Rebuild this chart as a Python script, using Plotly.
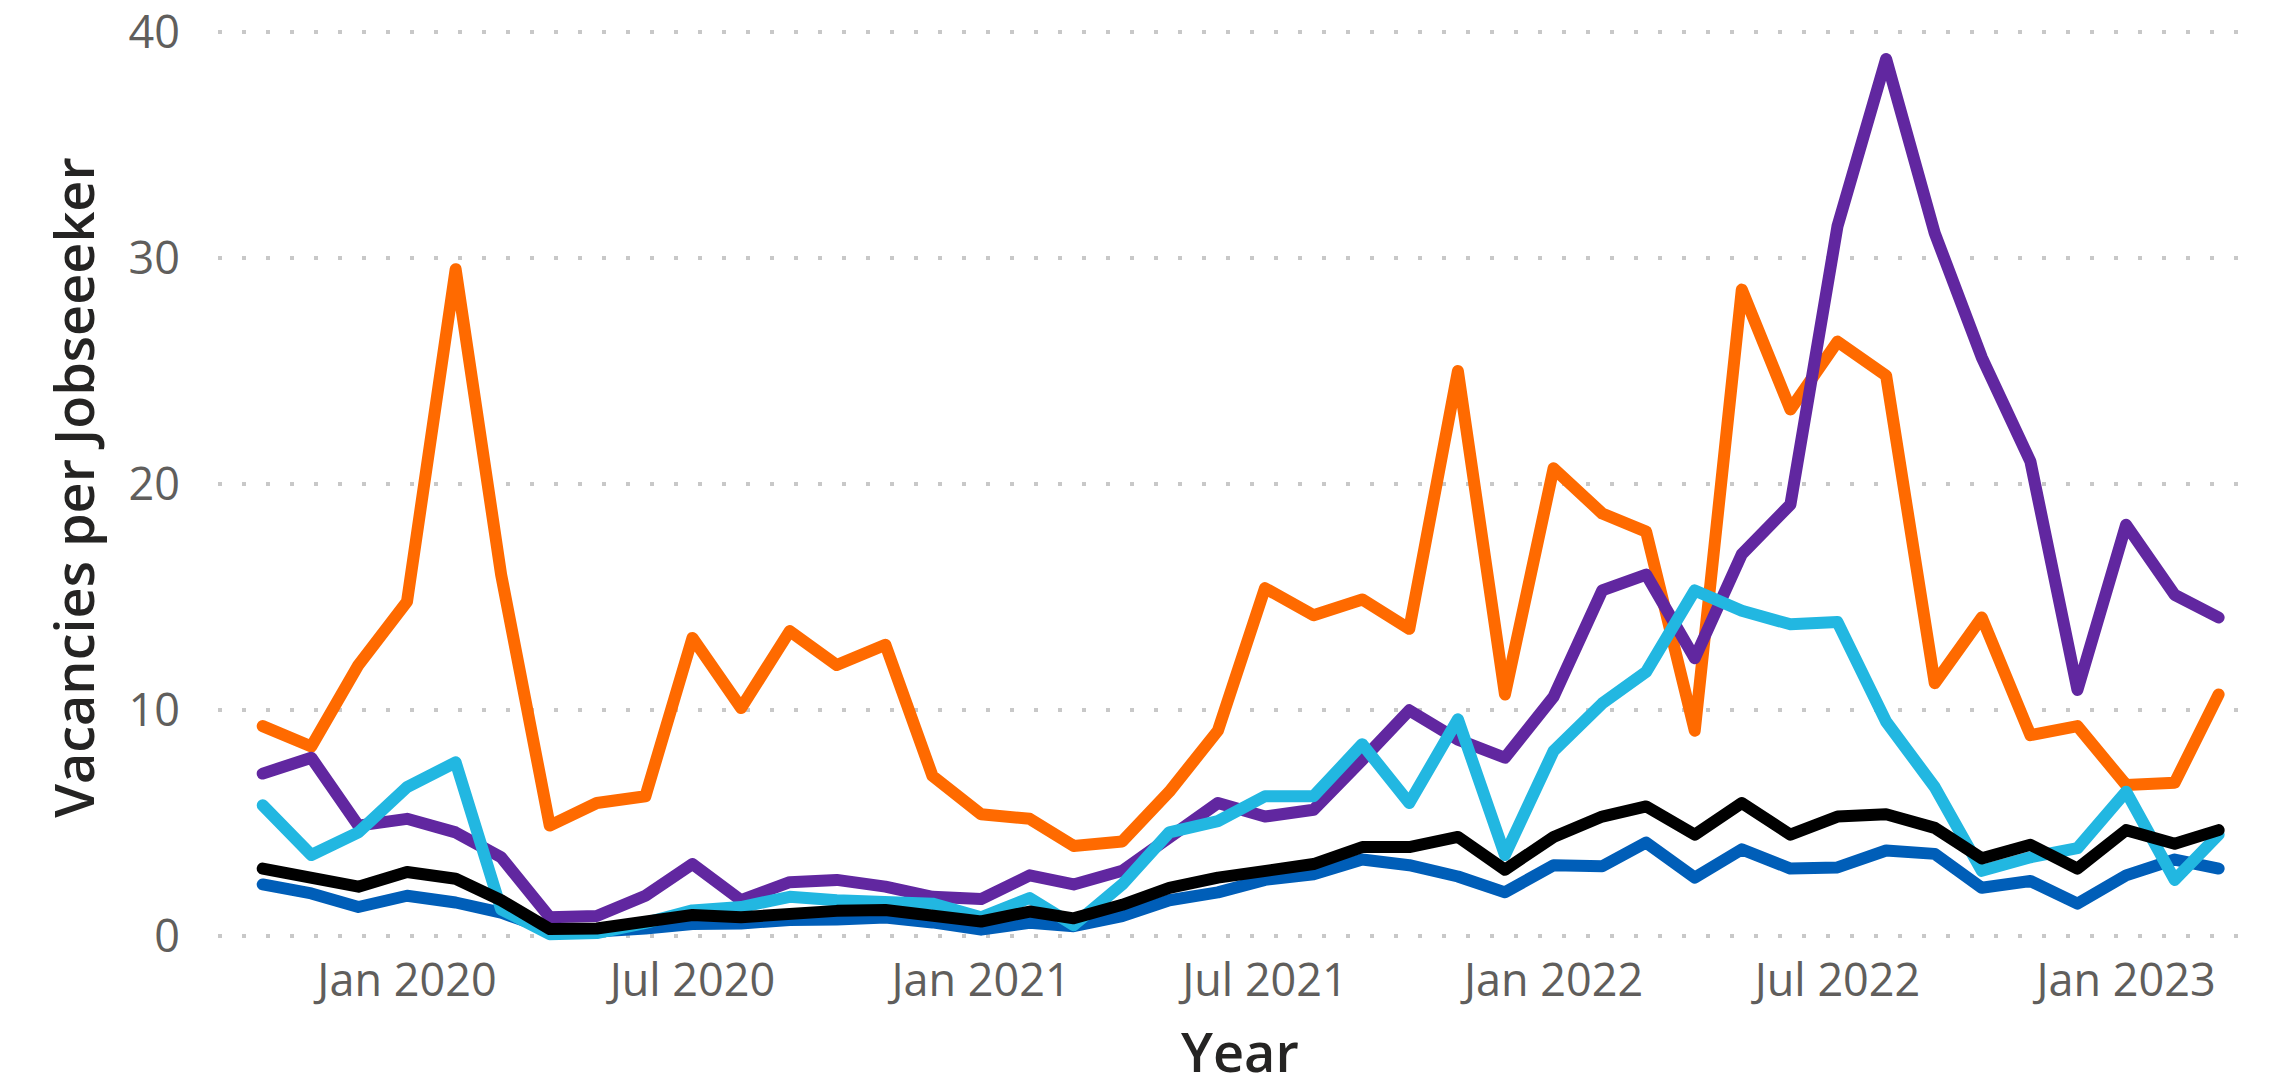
import plotly.graph_objects as go

months = [
    "2019-10-01", "2019-11-01", "2019-12-01",
    "2020-01-01", "2020-02-01", "2020-03-01", "2020-04-01", "2020-05-01", "2020-06-01",
    "2020-07-01", "2020-08-01", "2020-09-01", "2020-10-01", "2020-11-01", "2020-12-01",
    "2021-01-01", "2021-02-01", "2021-03-01", "2021-04-01", "2021-05-01", "2021-06-01",
    "2021-07-01", "2021-08-01", "2021-09-01", "2021-10-01", "2021-11-01", "2021-12-01",
    "2022-01-01", "2022-02-01", "2022-03-01", "2022-04-01", "2022-05-01", "2022-06-01",
    "2022-07-01", "2022-08-01", "2022-09-01", "2022-10-01", "2022-11-01", "2022-12-01",
    "2023-01-01", "2023-02-01", "2023-03-01",
]

orange_vals = [
    9.3, 8.4, 12.0,
    14.8, 29.5, 16.0, 4.9, 5.9, 6.2,
    13.2, 10.1, 13.5, 12.0, 12.9, 7.1,
    5.4, 5.2, 4.0, 4.2, 6.4, 9.1,
    15.4, 14.2, 14.9, 13.6, 25.0, 10.7,
    20.7, 18.7, 17.9, 9.1, 28.6, 23.3,
    26.3, 24.8, 11.2, 14.1, 8.9, 9.3,
    6.7, 6.8, 10.7,
]

purple_vals = [
    7.2, 7.9, 4.9,
    5.2, 4.6, 3.5, 0.85, 0.9, 1.8,
    3.2, 1.6, 2.4, 2.5, 2.2, 1.75,
    1.65, 2.7, 2.3, 2.9, 4.4, 5.9,
    5.3, 5.6, 7.8, 10.0, 8.7, 7.9,
    10.6, 15.3, 16.0, 12.3, 16.9, 19.1,
    31.4, 38.8, 31.1, 25.6, 21.0, 10.9,
    18.2, 15.1, 14.1,
]

cyan_vals = [
    5.8, 3.6, 4.6,
    6.6, 7.7, 1.2, 0.1, 0.15, 0.6,
    1.15, 1.3, 1.75, 1.6, 1.5, 1.45,
    0.85, 1.7, 0.5, 2.3, 4.6, 5.1,
    6.2, 6.2, 8.5, 5.9, 9.6, 3.6,
    8.2, 10.3, 11.7, 15.3, 14.4, 13.8,
    13.9, 9.5, 6.6, 2.9, 3.5, 3.9,
    6.4, 2.5, 4.5,
]

blue_vals = [
    2.3, 1.9, 1.3,
    1.8, 1.5, 1.05, 0.3, 0.22, 0.35,
    0.55, 0.57, 0.73, 0.75, 0.84, 0.62,
    0.3, 0.6, 0.45, 0.9, 1.6, 1.95,
    2.5, 2.75, 3.4, 3.15, 2.65, 1.95,
    3.15, 3.1, 4.15, 2.6, 3.85, 3.0,
    3.05, 3.8, 3.65, 2.15, 2.45, 1.45,
    2.7, 3.4, 3.0,
]

black_vals = [
    3.0, 2.55, 2.2,
    2.85, 2.55, 1.6, 0.33, 0.35, 0.62,
    0.95, 0.85, 1.05, 1.13, 1.17, 0.95,
    0.66, 1.1, 0.8, 1.4, 2.15, 2.6,
    2.95, 3.2, 3.95, 3.95, 4.4, 2.95,
    4.4, 5.3, 5.75, 4.5, 5.9, 4.5,
    5.3, 5.4, 4.8, 3.45, 4.05, 3.0,
    4.7, 4.1, 4.7,
]

tick_vals = ["2020-01-01", "2020-07-01", "2021-01-01", "2021-07-01",
             "2022-01-01", "2022-07-01", "2023-01-01"]
tick_text = ["Jan 2020", "Jul 2020", "Jan 2021", "Jul 2021",
             "Jan 2022", "Jul 2022", "Jan 2023"]
y_ticks = [0, 10, 20, 30, 40]

x_title = "Year"
y_title = "Vacancies per Jobseeeker"

series = [
    ("orange", orange_vals, "#FF6A00"),
    ("purple", purple_vals, "#6127A0"),
    ("blue", blue_vals, "#005EB8"),
    ("cyan", cyan_vals, "#22B7E1"),
    ("black", black_vals, "#000000"),
]

fig = go.Figure()
for name, vals, color in series:
    fig.add_trace(go.Scatter(
        x=months, y=vals, mode="lines", name=name,
        line=dict(color=color, width=12),
        hoverinfo="skip",
    ))

FONT = "Open Sans"
TITLE_FONT = dict(size=54, color="#252423", family=FONT, weight=600)
fig.update_layout(
    width=2279, height=1084,
    paper_bgcolor="white", plot_bgcolor="white",
    showlegend=False,
    margin=dict(l=218, r=29, t=25, b=134),
    font=dict(family=FONT, color="#605E5C"),
    xaxis=dict(
        type="date", automargin=False,
        range=["2019-09-02 12:00", "2023-03-21"],
        tickvals=tick_vals, ticktext=tick_text,
        tickfont=dict(size=45, color="#605E5C", family=FONT),
        showgrid=False, zeroline=False, showline=False,
        ticks="", ticklabelstandoff=0, ticklabeloverflow="allow",
    ),
    yaxis=dict(
        automargin=False,
        range=[-0.6, 40.3],
        tickvals=y_ticks,
        tickfont=dict(size=45, color="#605E5C", family=FONT),
        showgrid=True, gridcolor="#C8C8C8", gridwidth=4, griddash="4px,20px",
        zeroline=False, showline=False,
        ticks="", ticklabelstandoff=37, ticklabeloverflow="allow",
        title=dict(text=y_title, font=TITLE_FONT, standoff=16),
    ),
    annotations=[dict(
        text=x_title, xref="paper", yref="paper", x=0.503, y=-0.109,
        xanchor="center", yanchor="middle", showarrow=False, font=TITLE_FONT,
    )],
)

post = """
document.body.style.margin='0';
document.querySelectorAll('.scatterlayer path.js-line').forEach(function(p){
  p.style.strokeLinejoin='round'; p.style.strokeLinecap='round';
});
"""
fig.write_html("out.html", post_script=post, config={"displayModeBar": False})
